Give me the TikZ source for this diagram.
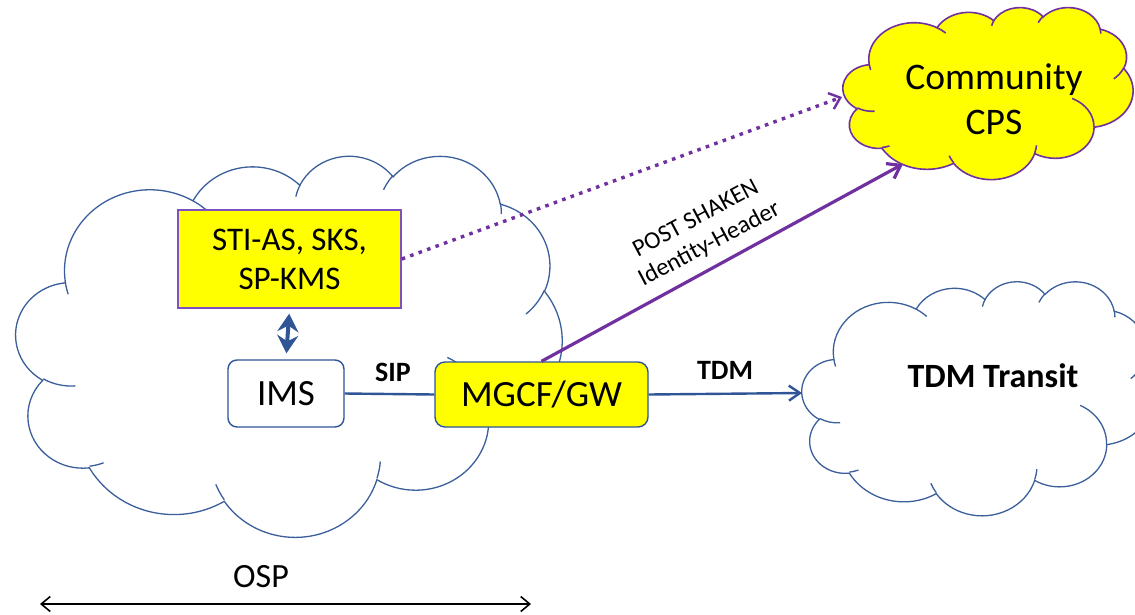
\documentclass[tikz,border=0pt]{standalone}
\usepackage{fontspec}
\setmainfont{Carlito}
\usetikzlibrary{arrows.meta}

\definecolor{cloudblue}{RGB}{58,95,155}
\definecolor{lineblue}{RGB}{47,85,151}
\definecolor{shakenpurple}{RGB}{112,48,160}
\definecolor{boxpurple}{RGB}{128,80,190}
\definecolor{boxyellow}{RGB}{255,255,0}

% parametric angle on an ellipse (rx, ry) for a given polar angle
\newcommand\ellang[4]{%
  \pgfmathparse{(#2)+atan2(((#3)-(#4))*sin(#2)*cos(#2),(#4)*cos(#2)^2+(#3)*sin(#2)^2)}%
  \expandafter\xdef\csname #1\endcsname{\pgfmathresult}}
% elliptical arc segment from a polar start angle and a sweep
\newcommand\ellarc[5]{%
  \ellang{#1@s}{#4}{#2}{#3}%
  \ellang{#1@e}{(#4)+(#5)}{#2}{#3}%
  \expandafter\xdef\csname #1\endcsname{arc[x radius=#2,y radius=#3,start angle=\csname #1@s\endcsname,end angle=\csname #1@e\endcsname]}}

% cloud outline, in a 432 x 432 frame with y pointing down
\ellarc{cloudarcA}{67.53}{91.90}{-190.48748}{123.78053}
\ellarc{cloudarcB}{53.33}{72.67}{-144.10238}{89.94523}
\ellarc{cloudarcC}{43.65}{59.45}{-145.80792}{99.72302}
\ellarc{cloudarcD}{48.57}{65.95}{-130.98607}{117.24173}
\ellarc{cloudarcE}{53.33}{72.73}{-78.70888}{109.02692}
\ellarc{cloudarcF}{67.75}{92.20}{-46.26725}{130.269}
\ellarc{cloudarcG}{57.85}{78.67}{0.62502}{114.03333}
\ellarc{cloudarcH}{67.52}{92.15}{22.4516}{115.17255}
\ellarc{cloudarcI}{77.20}{105.43}{66.24263}{75.71102}
\ellarc{cloudarcJ}{43.60}{59.18}{-274.94208}{146.73557}
\ellarc{cloudarcK}{43.45}{59.45}{-246.8285}{152.51885}
% short inner creases of the cloud
\ellarc{creaseA}{43.45}{59.45}{86.742}{26.4295}
\ellarc{creaseB}{43.60}{59.18}{73.61047}{11.44747}
\ellarc{creaseC}{67.52}{92.15}{137.62415}{14.0811}
\ellarc{creaseD}{67.52}{92.15}{6.45327}{15.99835}
\ellarc{creaseE}{57.85}{78.67}{-70.29235}{70.91737}
\ellarc{creaseF}{53.33}{72.73}{30.31803}{27.7515}
\ellarc{creaseG}{48.57}{65.95}{-13.74433}{14.8589}
\ellarc{creaseH}{48.57}{65.95}{-149.18145}{18.19537}
\ellarc{creaseI}{43.65}{59.45}{-163.49427}{17.68635}
\ellarc{creaseJ}{67.53}{91.90}{-66.70695}{12.31935}
\ellarc{creaseK}{67.53}{91.90}{157.65435}{11.85817}

\def\cloudoutline{(39.00,143.70) \cloudarcA \cloudarcB \cloudarcC \cloudarcD
  \cloudarcE \cloudarcF \cloudarcG \cloudarcH \cloudarcI \cloudarcJ \cloudarcK -- cycle}
\def\cloudcreases{(46.93,261.77) \creaseA (69.28,348.99) \creaseB
  (164.78,390.90) \creaseC (288.27,347.51) \creaseD (341.29,229.54) \creaseE
  (417.98,153.54) \creaseF (383.24,54.26) \creaseG (290.78,39.52) \creaseH
  (221.41,47.20) \creaseI (140.00,51.92) \creaseJ (41.27,157.89) \creaseK}

% #1,#2 top left corner, #3 width, #4 height, #5 outline style, #6 crease style
\newcommand\drawcloud[6]{%
  \pgfmathsetmacro\cloudsx{#3/432}\pgfmathsetmacro\cloudsy{#4/432}%
  \begin{scope}[shift={(#1,#2)},x=\cloudsx pt,y=-\cloudsy pt]
    \path[#5] \cloudoutline;
    \path[#6] \cloudcreases;
  \end{scope}}

\tikzset{
  bluecloud/.style={draw=cloudblue,line width=1.3pt,fill=white},
  bluecrease/.style={draw=cloudblue,line width=1.3pt},
  yellowcloud/.style={draw=shakenpurple,line width=1.6pt,fill=boxyellow},
  purplecrease/.style={draw=shakenpurple,line width=1.6pt},
  keybox/.style={draw=boxpurple,line width=1.4pt,fill=boxyellow,
    minimum width=223pt,minimum height=98pt,align=center,
    font=\fontsize{33}{39}\selectfont},
  imsbox/.style={draw=lineblue,line width=1.4pt,fill=white,rounded corners=9pt,
    minimum width=116pt,minimum height=67pt,font=\fontsize{37}{44}\selectfont},
  gwbox/.style={draw=lineblue,line width=1.4pt,fill=boxyellow,rounded corners=10pt,
    minimum width=213pt,minimum height=65pt,font=\fontsize{37}{44}\selectfont},
  linklabel/.style={font=\bfseries\fontsize{28}{33}\selectfont},
  bluelink/.style={draw=lineblue,line width=2.4pt},
  barb/.tip={Straight Barb[length=11pt,width=15pt]},
}

\begin{document}
\begin{tikzpicture}[x=1pt,y=-1pt]
\useasboundingbox (0,0) rectangle (1135,614);

% networks
\drawcloud{16}{155}{546}{381}{bluecloud}{bluecrease}
\drawcloud{802}{281}{352}{234}{bluecloud}{bluecrease}
\drawcloud{843}{7}{290}{172}{yellowcloud}{purplecrease}

\node[font=\bfseries\fontsize{34}{40}\selectfont] (tdmtransit) at (993,376) {TDM Transit};
\node[align=center,font=\fontsize{37.5}{45}\selectfont] (cps) at (994,99) {Community\\CPS};

\coordinate (cpsdot) at (842,97);
\coordinate (cpspost) at (903,164);
\coordinate (tdmin) at (802,393);
\coordinate (ospleft) at (40,604);
\coordinate (ospright) at (531,604);

% boxes
\node[keybox] (sti) at (289.5,259) {STI-AS, SKS,\\SP-KMS};
\node[imsbox] (ims) at (286,393.5) {IMS};
\node[gwbox] (mgcf) at (541.5,394.5) {MGCF/GW};

% connectors
\draw[shakenpurple,line width=3.4pt,dash pattern=on 3.6pt off 5.4pt,
  -{Straight Barb[length=10pt,width=17pt,line width=2.4pt]}] (sti.east) -- (cpsdot);
\draw[shakenpurple,line width=3.2pt,-{Straight Barb[length=12pt,width=17pt]}]
  (mgcf.north) -- (cpspost);
\draw[lineblue,line width=4pt,
  {Stealth[length=18pt,width=21pt,inset=6pt]}-{Stealth[length=18pt,width=21pt,inset=6pt]},
  shorten <=5pt,shorten >=6pt] (sti.south) -- (ims.north);
\draw[bluelink] (ims.east) -- (mgcf.west);
\draw[bluelink,-barb] (mgcf.east) -- (tdmin);
\draw[black,line width=1.6pt,{Straight Barb[length=9pt,width=15pt]}-{Straight Barb[length=9pt,width=15pt]}]
  (ospleft) -- (ospright);

% labels
\node[linklabel] (siplbl) at (393,372) {SIP};
\node[linklabel] (tdmlbl) at (725,370) {TDM};
\node[rotate=28,align=center,font=\fontsize{24.5}{29}\selectfont] (shakenlbl) at (703,232)
  {POST SHAKEN\\Identity-Header};
\node[font=\fontsize{34}{40}\selectfont] (osplbl) at (261,577) {OSP};
\end{tikzpicture}
\end{document}
